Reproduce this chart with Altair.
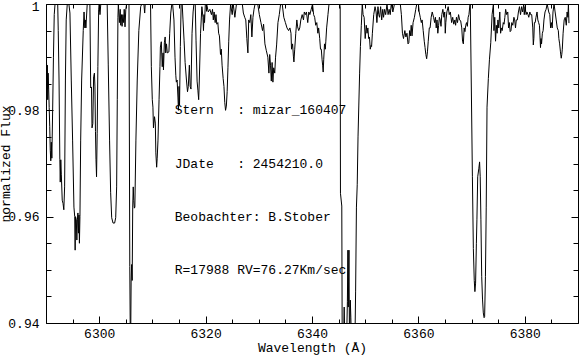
import altair as alt
import pandas as pd

FONT = "Liberation Mono"

# ---- spectrum as (wavelength [A], normalized flux) ----
seg_6290 = [(6290.1, 0.989), (6290.18, 0.984), (6290.25, 0.9885), (6290.32, 0.982), (6290.4, 0.987),
            (6290.5, 0.984), (6290.6, 0.9805), (6290.7, 0.977), (6290.8, 0.9725), (6290.9, 0.9705),
            (6291.0, 0.974), (6291.1, 0.971), (6291.25, 0.980), (6291.4, 0.990), (6291.55, 0.998),
            (6291.7, 1.0)]
seg_6293 = [(6292.2, 1.0), (6292.3, 0.995), (6292.45, 0.9857), (6292.6, 0.9707), (6292.68, 0.9665),
            (6292.78, 0.9707), (6292.88, 0.968), (6293.05, 0.9631), (6293.2, 0.9625), (6293.35, 0.9613),
            (6293.5, 0.9656), (6293.65, 0.9857), (6293.8, 0.997), (6294.0, 1.0)]
seg_6296 = [(6294.3, 1.0), (6294.5, 0.9983), (6294.75, 0.9857), (6295.0, 0.9744), (6295.25, 0.9618),
            (6295.4, 0.960), (6295.48, 0.9537), (6295.55, 0.960), (6295.7, 0.9594), (6295.8, 0.9556),
            (6295.9, 0.9594), (6296.0, 0.9607), (6296.1, 0.9569), (6296.2, 0.9603), (6296.28, 0.955),
            (6296.38, 0.960), (6296.52, 0.9744), (6296.7, 0.9857), (6297.0, 0.995), (6297.15, 0.9985),
            (6297.3, 0.9955), (6297.4, 0.997), (6297.5, 0.9955), (6297.75, 1.0)]
seg_6299 = [(6298.25, 1.0), (6298.4, 0.9842), (6298.55, 0.9844), (6298.65, 0.9767), (6298.8, 0.9775),
            (6298.95, 0.9863), (6299.1, 0.987), (6299.2, 0.9844), (6299.3, 0.976), (6299.4, 0.9707),
            (6299.5, 0.9675), (6299.62, 0.9757), (6299.75, 0.9882), (6299.9, 0.9989), (6300.0, 1.0),
            (6300.15, 0.998), (6300.3, 1.0)]
seg_6303 = [(6301.5, 1.0), (6301.7, 0.9887), (6301.95, 0.9744), (6302.15, 0.9646), (6302.35, 0.9598),
            (6302.6, 0.9588), (6302.9, 0.9588), (6303.1, 0.9598), (6303.28, 0.9656), (6303.4, 0.982),
            (6303.52, 0.9975), (6303.6, 1.0), (6303.8, 0.9965), (6303.95, 0.999), (6304.05, 0.996),
            (6304.2, 0.998), (6304.3, 0.9958), (6304.45, 0.998), (6304.6, 0.9965), (6304.7, 0.999),
            (6304.85, 0.9957), (6305.0, 0.999), (6305.15, 1.0)]
seg_6306 = [(6305.6, 1.0), (6305.75, 0.9506), (6305.88, 0.932), (6306.0, 0.9477), (6306.1, 0.951),
            (6306.2, 0.948), (6306.3, 0.9618), (6306.4, 0.9656), (6306.5, 0.963), (6306.6, 0.9616),
            (6306.7, 0.9618), (6306.9, 0.9744), (6307.15, 0.9857), (6307.45, 0.995), (6307.8, 0.9995),
            (6308.0, 1.0), (6308.4, 1.0), (6308.55, 0.9983), (6308.65, 1.0)]
seg_6311 = [(6309.65, 1.0), (6309.8, 0.9882), (6309.98, 0.982), (6310.1, 0.9806), (6310.2, 0.9767),
            (6310.4, 0.9788), (6310.55, 0.9776), (6310.65, 0.972), (6310.8, 0.9693), (6310.9, 0.971),
            (6311.05, 0.9744), (6311.25, 0.982), (6311.42, 0.9882), (6311.5, 0.9919), (6311.67, 0.9929),
            (6311.85, 0.9882), (6312.0, 0.9908), (6312.08, 0.9876), (6312.25, 0.9927), (6312.4, 0.9938),
            (6312.5, 0.9908), (6312.65, 0.9925), (6312.8, 0.9908), (6313.1, 0.991), (6313.25, 0.9945),
            (6313.45, 0.9983), (6313.65, 1.0)]
seg_6315 = [(6313.8, 1.0), (6314.05, 0.997), (6314.25, 0.990), (6314.4, 0.9866), (6314.5, 0.9853),
            (6314.65, 0.9857), (6314.8, 0.9825), (6314.9, 0.980), (6315.0, 0.9845), (6315.1, 0.981),
            (6315.25, 0.992), (6315.4, 1.0)]
seg_6317 = [(6315.6, 1.0), (6315.75, 0.997), (6315.95, 0.9932), (6316.15, 0.989), (6316.4, 0.9857),
            (6316.6, 0.9835), (6316.75, 0.9845), (6316.95, 0.9885), (6317.1, 0.9845), (6317.25, 0.984),
            (6317.45, 0.9945), (6317.65, 0.9985), (6317.8, 1.0)]
seg_6319 = [(6318.05, 1.0), (6318.2, 0.9932), (6318.4, 0.9855), (6318.55, 0.9838), (6318.7, 0.982),
            (6318.82, 0.9857), (6319.05, 0.9945), (6319.3, 0.9995), (6319.5, 0.9975), (6319.6, 0.995),
            (6319.7, 0.998), (6319.8, 0.9965), (6319.95, 1.0)]
seg_6324 = [(6320.2, 1.0), (6320.5, 0.9985), (6320.8, 0.999), (6321.1, 0.998), (6321.3, 0.999),
            (6321.45, 0.997), (6321.6, 0.9985), (6321.8, 0.9965), (6321.95, 0.998), (6322.1, 0.9962),
            (6322.3, 0.9965), (6322.45, 0.9945), (6322.6, 0.994), (6322.8, 0.9905), (6322.95, 0.9915),
            (6323.1, 0.9885), (6323.3, 0.986), (6323.45, 0.9845), (6323.6, 0.9815), (6323.75, 0.980),
            (6323.9, 0.9808), (6324.05, 0.9835), (6324.2, 0.988), (6324.35, 0.993), (6324.5, 0.997),
            (6324.7, 1.0), (6325.0, 0.998), (6325.2, 1.0), (6325.5, 0.9975), (6325.8, 1.0)]
seg_6328 = [(6326.9, 1.0), (6327.1, 0.9983), (6327.35, 0.9975), (6327.55, 0.997), (6327.75, 0.9935),
            (6327.95, 0.9908), (6328.1, 0.997), (6328.3, 0.9965), (6328.5, 0.998), (6328.7, 0.9938),
            (6328.9, 0.9975), (6329.1, 0.999), (6329.3, 1.0)]
seg_6332 = [(6329.8, 1.0), (6330.1, 0.998), (6330.4, 0.9965), (6330.7, 0.995), (6330.9, 0.9962),
            (6331.15, 0.9925), (6331.4, 0.9913), (6331.7, 0.990), (6331.9, 0.987), (6332.05, 0.9905),
            (6332.2, 0.9885), (6332.35, 0.9855), (6332.5, 0.989), (6332.65, 0.9853), (6332.8, 0.988),
            (6333.0, 0.987), (6333.15, 0.990), (6333.35, 0.9923), (6333.6, 0.9965), (6333.85, 0.998),
            (6334.1, 1.0)]
seg_6337 = [(6334.4, 1.0), (6334.7, 0.9975), (6335.0, 0.9965), (6335.3, 0.9955), (6335.6, 0.995),
            (6335.85, 0.9955), (6336.05, 0.9945), (6336.15, 0.9915), (6336.35, 0.9925), (6336.5, 0.9902),
            (6336.6, 0.9891), (6336.75, 0.9915), (6336.95, 0.9945), (6337.15, 0.997), (6337.3, 0.9957),
            (6337.5, 0.995), (6337.7, 0.9955), (6337.9, 0.997), (6338.15, 0.998), (6338.4, 0.997),
            (6338.55, 0.9985), (6338.75, 0.998), (6338.95, 0.9985), (6339.2, 0.9965), (6339.4, 0.9985),
            (6339.6, 0.998), (6339.85, 0.999), (6340.1, 1.0)]
seg_6342 = [(6340.3, 0.998), (6340.5, 0.9975), (6340.7, 0.996), (6340.9, 0.9965), (6341.1, 0.9945),
            (6341.25, 0.9955), (6341.45, 0.9935), (6341.6, 0.9915), (6341.75, 0.9915), (6341.9, 0.9895),
            (6342.0, 0.9885), (6342.1, 0.9872), (6342.2, 0.9895), (6342.35, 0.9925), (6342.5, 0.9915),
            (6342.6, 0.993), (6342.75, 0.9955), (6343.0, 0.998), (6343.2, 1.0)]
seg_6347 = [(6345.2, 1.0), (6345.3, 0.9995), (6345.35, 0.9644), (6345.6, 0.962), (6345.68, 0.936),
            (6345.9, 0.935), (6346.05, 0.943), (6346.2, 0.935), (6346.45, 0.934), (6346.65, 0.944),
            (6346.75, 0.9537), (6346.82, 0.943), (6346.95, 0.9537), (6347.05, 0.935), (6347.2, 0.9443),
            (6347.3, 0.9411), (6347.45, 0.935), (6347.7, 0.934), (6347.95, 0.936), (6348.05, 0.935),
            (6348.2, 0.946), (6348.35, 0.9618), (6348.5, 0.966), (6348.65, 0.975), (6348.8, 0.981),
            (6348.95, 0.987), (6349.1, 0.992), (6349.27, 0.996), (6349.45, 1.0)]
seg_6351 = [(6349.6, 0.998), (6349.8, 0.9975), (6350.0, 0.9935), (6350.2, 0.996), (6350.35, 0.9945),
            (6350.5, 0.9955), (6350.65, 0.9935), (6350.8, 0.9938), (6350.95, 0.9915), (6351.1, 0.9922),
            (6351.2, 0.992), (6351.35, 0.9945), (6351.6, 0.998), (6351.85, 0.9995), (6352.05, 0.9985),
            (6352.2, 0.9965), (6352.4, 0.9995), (6352.55, 0.998), (6352.7, 0.9975), (6352.9, 0.9995),
            (6353.1, 0.997), (6353.3, 0.999), (6353.45, 0.9975), (6353.65, 0.999), (6353.85, 0.998),
            (6354.1, 1.0), (6354.3, 0.998), (6354.5, 0.999), (6354.7, 0.998), (6354.9, 1.0),
            (6355.2, 0.9985), (6355.5, 1.0)]
seg_6358 = [(6356.6, 1.0), (6356.8, 0.998), (6357.0, 0.9945), (6357.2, 0.9935), (6357.45, 0.995),
            (6357.65, 0.9938), (6357.85, 0.9945), (6358.05, 0.9925), (6358.2, 0.9927), (6358.35, 0.995),
            (6358.5, 0.994), (6358.65, 0.996), (6358.8, 0.994), (6359.0, 0.9965), (6359.25, 0.9975),
            (6359.5, 0.999), (6359.7, 1.0)]
seg_6362 = [(6360.0, 1.0), (6360.15, 0.9985), (6360.35, 0.9975), (6360.55, 0.9965), (6360.7, 0.997),
            (6360.9, 0.995), (6361.1, 0.993), (6361.25, 0.9918), (6361.4, 0.9905), (6361.55, 0.9897),
            (6361.7, 0.991), (6361.85, 0.993), (6362.05, 0.9955), (6362.2, 0.9955), (6362.4, 0.9975),
            (6362.6, 0.9985), (6362.85, 0.9975), (6363.05, 0.9965), (6363.2, 0.9975), (6363.35, 0.9955),
            (6363.5, 0.997), (6363.65, 0.9945), (6363.8, 0.996), (6363.95, 0.9975), (6364.1, 0.997),
            (6364.25, 0.9958), (6364.4, 0.998), (6364.6, 0.999), (6364.8, 0.9975), (6364.95, 0.9985),
            (6365.05, 0.9945), (6365.15, 0.9965), (6365.35, 0.9985), (6365.6, 0.9995), (6365.8, 0.998),
            (6366.0, 0.9985), (6366.25, 0.9965), (6366.45, 0.9975), (6366.65, 0.9962), (6366.85, 0.997),
            (6367.0, 0.996), (6367.15, 0.9975), (6367.35, 0.9965), (6367.55, 0.998), (6367.75, 0.997),
            (6367.95, 0.9968), (6368.15, 0.9955), (6368.3, 0.993), (6368.45, 0.9925), (6368.6, 0.9955),
            (6368.75, 0.9948), (6368.9, 0.996), (6369.05, 0.9965), (6369.2, 0.9958), (6369.35, 0.9975),
            (6369.5, 0.998), (6369.7, 1.0)]
seg_6372 = [(6369.75, 1.0), (6369.95, 0.9842), (6370.15, 0.9675), (6370.33, 0.954), (6370.5, 0.948),
            (6370.62, 0.9459), (6370.75, 0.9475), (6370.9, 0.955), (6371.0, 0.9594), (6371.15, 0.9675),
            (6371.35, 0.969), (6371.5, 0.9703), (6371.62, 0.9675), (6371.75, 0.9594), (6371.9, 0.9487),
            (6372.05, 0.9445), (6372.2, 0.9419), (6372.35, 0.941), (6372.45, 0.9412), (6372.6, 0.9487),
            (6372.75, 0.9618), (6372.9, 0.9806), (6373.15, 0.986), (6373.35, 0.9895), (6373.6, 0.9927),
            (6373.85, 0.998), (6374.1, 1.0)]
seg_6377 = [(6374.2, 0.995), (6374.35, 0.9975), (6374.5, 0.993), (6374.65, 0.996), (6374.8, 0.9945),
            (6374.95, 0.997), (6375.1, 0.9955), (6375.3, 0.9985), (6375.45, 0.9945), (6375.6, 0.9955),
            (6375.75, 0.995), (6375.95, 0.9965), (6376.1, 0.9962), (6376.25, 0.9975), (6376.4, 0.999),
            (6376.6, 0.998), (6376.8, 0.9985), (6376.95, 0.9955), (6377.1, 0.9965), (6377.25, 0.9948),
            (6377.4, 0.995), (6377.55, 0.9965), (6377.75, 0.996), (6377.95, 0.9975), (6378.1, 0.997),
            (6378.25, 0.9955), (6378.4, 0.997), (6378.6, 0.997), (6378.8, 0.9985), (6379.0, 0.9995),
            (6379.2, 0.998), (6379.4, 0.9995), (6379.6, 0.9985), (6379.8, 1.0)]
seg_6382 = [(6379.9, 0.998), (6380.05, 0.9995), (6380.25, 0.998), (6380.4, 0.9985), (6380.6, 0.998),
            (6380.75, 0.9975), (6380.95, 0.9985), (6381.1, 0.998), (6381.3, 0.998), (6381.5, 0.9955),
            (6381.6, 0.9923), (6381.7, 0.9935), (6381.8, 0.9965), (6381.95, 0.9965), (6382.1, 0.9975),
            (6382.3, 0.9985), (6382.45, 0.997), (6382.6, 0.9965), (6382.75, 0.996), (6382.85, 0.994),
            (6382.95, 0.9918), (6383.05, 0.9935), (6383.15, 0.9925), (6383.3, 0.9945), (6383.45, 0.995),
            (6383.6, 0.997), (6383.8, 0.9985), (6384.0, 0.999), (6384.2, 1.0), (6384.5, 0.9985),
            (6384.7, 0.998), (6384.85, 0.9955), (6385.0, 0.9965), (6385.15, 0.9955), (6385.3, 0.9985),
            (6385.5, 1.0)]
seg_6387 = [(6385.7, 0.9985), (6385.9, 0.997), (6386.1, 0.9955), (6386.3, 0.995), (6386.4, 0.9935),
            (6386.55, 0.9925), (6386.7, 0.991), (6386.85, 0.9898), (6386.95, 0.9905), (6387.05, 0.9915),
            (6387.2, 0.9945), (6387.4, 0.997), (6387.6, 0.9975), (6387.8, 0.996), (6387.95, 0.9985),
            (6388.1, 0.9975), (6388.2, 1.0), (6388.3, 0.9964)]

segments = [seg_6290, seg_6293, seg_6296, seg_6299, seg_6303, seg_6306, seg_6311, seg_6315,
            seg_6317, seg_6319, seg_6324, seg_6328, seg_6332, seg_6337, seg_6342, seg_6347,
            seg_6351, seg_6358, seg_6362, seg_6372, seg_6377, seg_6382, seg_6387]

# ---- axes ----
x_domain = [6290, 6390]
y_domain = [0.94, 1.0]
x_labels = [6300, 6320, 6340, 6360, 6380]
x_ticks = [6290, 6295, 6300, 6305, 6310, 6315, 6320, 6325, 6330, 6335, 6340,
           6345, 6350, 6355, 6360, 6365, 6370, 6375, 6380, 6385, 6390]
y_labels = [0.94, 0.96, 0.98, 1.0]
y_ticks = [0.94, 0.945, 0.95, 0.955, 0.96, 0.965, 0.97, 0.975, 0.98, 0.985, 0.99, 0.995, 1.0]

# ---- header text ----
info_lines = ["Stern   : mizar_160407", "JDate   : 2454210.0",
              "Beobachter: B.Stober", "R=17988 RV=76.27Km/sec"]
info_levels = [0.98, 0.97, 0.96, 0.95]
info_start = 6314.2

rows = [{"wl": w, "flux": f} for seg in segments for (w, f) in seg]
spec_df = pd.DataFrame(rows)
info_df = pd.DataFrame({"txt": [s.replace(" ", "\u00a0") for s in info_lines],
                        "lvl": info_levels,
                        "wl": [info_start] * len(info_lines)})

W, H = 532, 319
xs = alt.Scale(domain=x_domain, nice=False, zero=False)
ys = alt.Scale(domain=y_domain, nice=False, zero=False)

x_tick_size = {"condition": {"test": "datum.value % 20 === 0", "value": 7}, "value": 4}
y_tick_size = {"condition": {"test": "round(datum.value * 1000) % 20 === 0", "value": 7}, "value": 5}
y_label_shift = {"condition": {"test": "datum.value >= 0.999", "value": 2}, "value": 0}

line = alt.Chart(spec_df).mark_line(clip=True, color="black", strokeWidth=1).encode(
    x=alt.X("wl:Q", scale=xs, axis=alt.Axis(
        orient="bottom", values=x_labels, format="d", ticks=False, tickSize=0, domain=False,
        grid=False, labelPadding=4, title="Wavelength (Å)", titleY=28.5,
        titleBaseline="alphabetic")),
    y=alt.Y("flux:Q", scale=ys, axis=alt.Axis(
        orient="left", values=y_labels, format="~g", ticks=False, tickSize=0, domain=False,
        grid=False, labelPadding=7, labelOffset=y_label_shift,
        title="normalized Flux", titleX=-37, titleY=159.5,
        titleAngle=270, titleAlign="center", titleBaseline="alphabetic")),
)

# inward ticks: bottom & left edges (axes placed on the opposite side of their orient)
ticks_a = alt.Chart(spec_df).mark_line(opacity=0).encode(
    x=alt.X("wl:Q", scale=xs, axis=alt.Axis(
        orient="top", offset=-H, values=x_ticks, tickSize=x_tick_size, labels=False,
        domain=False, grid=False, title=None)),
    y=alt.Y("flux:Q", scale=ys, axis=alt.Axis(
        orient="right", offset=-W, values=y_ticks, tickSize=y_tick_size, labels=False,
        domain=False, grid=False, title=None)),
)
# inward ticks: top & right edges
ticks_b = alt.Chart(spec_df).mark_line(opacity=0).encode(
    x=alt.X("wl:Q", scale=xs, axis=alt.Axis(
        orient="bottom", offset=-H, values=x_ticks, tickSize=x_tick_size, labels=False,
        domain=False, grid=False, title=None)),
    y=alt.Y("flux:Q", scale=ys, axis=alt.Axis(
        orient="left", offset=-W, values=y_ticks, tickSize=y_tick_size, labels=False,
        domain=False, grid=False, title=None)),
)

texts = alt.Chart(info_df).mark_text(
    align="left", baseline="middle", font=FONT, fontSize=13, color="black"
).encode(
    x=alt.X("wl:Q", scale=xs, axis=None),
    y=alt.Y("lvl:Q", scale=ys, axis=None),
    text="txt:N",
)

chart = alt.layer(line, ticks_a, ticks_b, texts).resolve_axis(
    x="independent", y="independent"
).properties(
    width=W, height=H,
    padding={"left": 46, "top": 4, "right": 1, "bottom": 32},
    autosize=alt.AutoSizeParams(type="none"),
    background="white",
).configure_view(
    stroke="black", strokeWidth=1
).configure_axis(
    labelFont=FONT, labelFontSize=13, labelColor="black",
    titleFont=FONT, titleFontSize=13, titleFontWeight="normal", titleColor="black",
    tickColor="black", tickWidth=1,
)

chart.save("out.html", embed_options={"renderer": "svg", "actions": False})
